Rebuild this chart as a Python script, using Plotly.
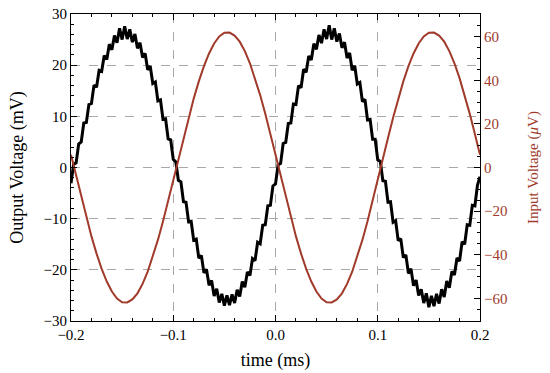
import numpy as np
import plotly.graph_objects as go

# time grid (ms)
t_out = np.round(np.linspace(-0.2, 0.2, 161), 4)
t_in = np.round(np.linspace(-0.2, 0.2, 81), 4)

# Output voltage (mV) (noisy)
v_out = [
    -3.1, 0.6, 0.9, 4.6, 5.0, 8.7, 8.8, 12.3, 12.5, 16.1,
    15.7, 19.0, 18.8, 21.9, 21.1, 24.1, 23.0, 25.8, 24.4, 27.2,
    25.0, 27.6, 25.1, 27.0, 24.5, 26.1, 23.3, 24.4, 21.5, 22.3,
    19.1, 19.8, 16.4, 16.7, 13.0, 13.2, 9.4, 9.5, 5.6, 5.4,
    1.6, 1.1, -2.5, -2.8, -6.7, -6.8, -10.6, -10.5, -14.2, -14.0,
    -17.7, -17.2, -20.6, -19.9, -23.0, -22.1, -25.1, -23.7, -26.4, -24.7,
    -27.0, -25.0, -26.9, -24.8, -26.5, -23.9, -25.2, -22.3, -23.4, -20.4,
    -21.1, -17.8, -18.2, -14.6, -14.9, -11.3, -11.2, -7.5, -7.4, -3.6,
    -3.2, 0.5, 0.8, 4.7, 4.9, 8.6, 8.7, 12.4, 12.3, 16.0,
    15.6, 19.2, 18.6, 21.8, 21.0, 24.2, 23.1, 25.9, 24.3, 27.0,
    25.1, 27.8, 25.0, 27.2, 24.6, 26.2, 23.4, 24.5, 21.4, 22.4,
    19.0, 19.9, 16.3, 16.6, 12.9, 13.3, 9.3, 9.4, 5.5, 5.5,
    1.5, 1.2, -2.6, -2.7, -6.8, -6.7, -10.7, -10.4, -14.3, -13.9,
    -17.6, -17.1, -20.7, -19.8, -23.1, -22.0, -25.0, -23.8, -26.5, -24.6,
    -27.3, -25.1, -27.1, -24.7, -26.6, -23.8, -25.3, -22.2, -23.5, -20.3,
    -21.0, -17.7, -18.3, -14.5, -15.0, -11.2, -11.3, -7.4, -7.5, -3.5,
    -1.8,
]

# Input voltage (uV)
v_in = [
    5.8, -3.9, -13.5, -22.8, -31.6, -39.5, -46.5, -52.3, -56.9, -60.1,
    -61.8, -61.9, -60.5, -57.7, -53.4, -47.8, -41.0, -33.2, -24.6, -15.4,
    -5.8, 3.9, 13.5, 22.8, 31.6, 39.5, 46.5, 52.3, 56.9, 60.1,
    61.8, 61.9, 60.5, 57.7, 53.4, 47.8, 41.0, 33.2, 24.6, 15.4,
    5.8, -3.9, -13.5, -22.8, -31.6, -39.5, -46.5, -52.3, -56.9, -60.1,
    -61.8, -61.9, -60.5, -57.7, -53.4, -47.8, -41.0, -33.2, -24.6, -15.4,
    -5.8, 3.9, 13.5, 22.8, 31.6, 39.5, 46.5, 52.3, 56.9, 60.1,
    61.8, 61.9, 60.5, 57.7, 53.4, 47.8, 41.0, 33.2, 24.6, 15.4,
    5.8,
]

RED = "#a03a2a"
FONT = "Times New Roman, Liberation Serif, serif"

fig = go.Figure()
fig.add_trace(go.Scatter(x=t_out, y=v_out, mode="lines",
                         line=dict(color="black", width=3), yaxis="y", showlegend=False))
fig.add_trace(go.Scatter(x=t_in, y=v_in, mode="lines",
                         line=dict(color=RED, width=2), yaxis="y2", showlegend=False))

fig.update_layout(
    width=550, height=373,
    margin=dict(l=71, r=70, t=14, b=52, autoexpand=False),
    paper_bgcolor="white", plot_bgcolor="white",
    font=dict(family=FONT, size=15, color="black"),
    xaxis=dict(
        range=[-0.2, 0.2], dtick=0.1, tick0=0, tickformat=".1f",
        ticks="inside", ticklen=6, tickcolor="black",
        minor=dict(dtick=0.02, ticks="inside", ticklen=3, tickcolor="black", showgrid=False),
        showline=True, linecolor="black", linewidth=1.2, mirror="ticks",
        showgrid=True, gridcolor="#a8a8a8", griddash="dash", gridwidth=1,
        zeroline=False, automargin=False,
        title=dict(text="time (ms)", standoff=11),
    ),
    yaxis=dict(
        range=[-30, 30], dtick=10,
        ticks="inside", ticklen=6, tickcolor="black",
        minor=dict(dtick=2, ticks="inside", ticklen=3, tickcolor="black", showgrid=False),
        showline=True, linecolor="black", linewidth=1.2, mirror=False,
        showgrid=True, gridcolor="#a8a8a8", griddash="dash", gridwidth=1,
        zeroline=False, automargin=False,
        title=dict(text="Output Voltage (mV)", standoff=15),
    ),
    yaxis2=dict(
        overlaying="y", side="right",
        range=[-70.4, 70.4], dtick=20, tick0=0,
        ticks="inside", ticklen=6, tickcolor="black",
        minor=dict(dtick=5, ticks="inside", ticklen=3, tickcolor="black", showgrid=False),
        showline=True, linecolor="black", linewidth=1.2,
        showgrid=False, zeroline=False, automargin=False,
        tickfont=dict(color=RED, family=FONT, size=15),
        title=dict(text="Input Voltage (<i>μ</i>V)", font=dict(color=RED, family=FONT, size=15), standoff=20),
    ),
)

fig.write_html("out.html", config={"displayModeBar": False},
               post_script="document.body.style.margin='0';document.body.style.padding='0';")
